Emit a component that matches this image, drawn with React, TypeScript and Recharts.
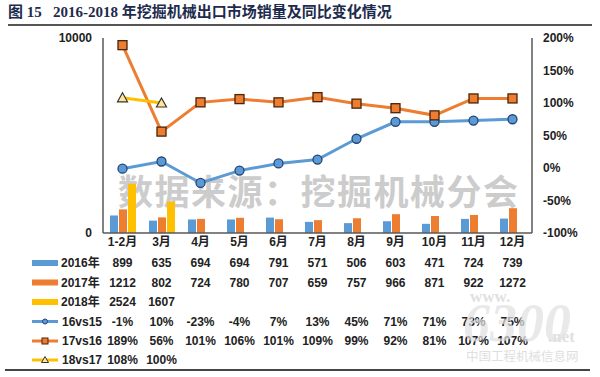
import React from "react";
import {
  ComposedChart,
  Bar,
  Line,
  XAxis,
  YAxis,
} from "recharts";

const categories = ["1-2月", "3月", "4月", "5月", "6月", "7月", "8月", "9月", "10月", "11月", "12月"];
const sales2016 = [899, 635, 694, 694, 791, 571, 506, 603, 471, 724, 739];
const sales2017 = [1212, 802, 724, 780, 707, 659, 757, 966, 871, 922, 1272];
const sales2018 = [2524, 1607];
const yoy16vs15 = [-1, 10, -23, -4, 7, 13, 45, 71, 71, 73, 75];
const yoy17vs16 = [189, 56, 101, 106, 101, 109, 99, 92, 81, 107, 107];
const yoy18vs17 = [108, 100];
const leftTicks = [0, 10000];
const rightTicks = [-100, -50, 0, 50, 100, 150, 200];

const BLUE = "#5B9BD5";
const ORANGE = "#ED7D31";
const YELLOW = "#FFC000";
const FRAME = "#595959";
const FONT = "'Liberation Sans', Arial, 'Noto Sans CJK SC', sans-serif";

const data = categories.map((cat, i) => ({
  cat,
  s2016: sales2016[i] ?? null,
  s2017: sales2017[i] ?? null,
  s2018: sales2018[i] ?? null,
  y16: yoy16vs15[i] ?? null,
  y17: yoy17vs16[i] ?? null,
  y18: yoy18vs17[i] ?? null,
}));

const tableRows = [
  { label: "2016年", kind: "bar", color: BLUE, values: sales2016.map(String) },
  { label: "2017年", kind: "bar", color: ORANGE, values: sales2017.map(String) },
  { label: "2018年", kind: "bar", color: YELLOW, values: sales2018.map(String) },
  { label: "16vs15", kind: "circle", color: BLUE, values: yoy16vs15.map((v) => `${v}%`) },
  { label: "17vs16", kind: "square", color: ORANGE, values: yoy17vs16.map((v) => `${v}%`) },
  { label: "18vs17", kind: "triangle", color: YELLOW, values: yoy18vs17.map((v) => `${v}%`) },
];

// row centers measured from the plot bottom
const CAT_DY = 9;
const ROW_DY = [30, 49.5, 69, 88.5, 108, 127];

const LegendKey = ({ row, y }: { row: any; y: number }) => {
  const x1 = 32;
  const x2 = 58;
  const cx = (x1 + x2) / 2;
  let marker = null;
  if (row.kind === "circle") {
    marker = <circle cx={cx} cy={y} r={2.5} fill={row.color} stroke="#264478" strokeWidth={1} />;
  } else if (row.kind === "square") {
    marker = <rect x={cx - 3} y={y - 3} width={6} height={6} fill={row.color} stroke="#4a2308" strokeWidth={1} />;
  } else if (row.kind === "triangle") {
    marker = (
      <polygon
        points={`${cx},${y - 3.5} ${cx + 3.5},${y + 2.5} ${cx - 3.5},${y + 2.5}`}
        fill="#FFE699"
        stroke="#333"
        strokeWidth={1}
      />
    );
  }
  return (
    <g>
      {row.kind === "bar" ? (
        <rect x={x1} y={y - 3} width={x2 - x1} height={6} fill={row.color} />
      ) : (
        <line x1={x1} x2={x2} y1={y} y2={y} stroke={row.color} strokeWidth={3} />
      )}
      {marker}
      <text
        x={row.kind === "bar" ? 61 : 62}
        y={y}
        dominantBaseline="central"
        fontSize={12}
        fontWeight="bold"
        fill="#222"
        fontFamily={FONT}
      >
        {row.label}
      </text>
    </g>
  );
};

const TableTick = (props: any) => {
  const { x, y, payload } = props;
  const i = payload.index;
  return (
    <g>
      <text
        x={x}
        y={y + CAT_DY}
        textAnchor="middle"
        dominantBaseline="central"
        fontSize={12}
        fontWeight="bold"
        fill="#222"
        fontFamily={FONT}
      >
        {categories[i]}
      </text>
      {tableRows.map((row, k) =>
        row.values[i] != null ? (
          <text
            key={row.label}
            x={x}
            y={y + ROW_DY[k]}
            textAnchor="middle"
            dominantBaseline="central"
            fontSize={12}
            fontWeight="bold"
            fill="#222"
            fontFamily={FONT}
          >
            {row.values[i]}
          </text>
        ) : null
      )}
      {i === 0 && tableRows.map((row, k) => <LegendKey key={row.label} row={row} y={y + ROW_DY[k]} />)}
    </g>
  );
};

const SquareDot = (props: any) => {
  const { cx, cy, value } = props;
  if (value == null || cx == null || cy == null) return <g />;
  return <rect x={cx - 4.5} y={cy - 4.5} width={9} height={9} fill={ORANGE} stroke="#4a2308" strokeWidth={1.3} />;
};

const TriangleDot = (props: any) => {
  const { cx, cy, value } = props;
  if (value == null || cx == null || cy == null) return <g />;
  return (
    <polygon
      points={`${cx},${cy - 5} ${cx + 5},${cy + 4} ${cx - 5},${cy + 4}`}
      fill="#FFE699"
      stroke="#333"
      strokeWidth={1.2}
    />
  );
};

export default function App() {
  return (
    <div style={{ position: "absolute", left: 0, top: 0, width: 600, height: 377, background: "#fff", overflow: "hidden" }}>
      <div
        style={{
          position: "absolute",
          left: 8,
          top: 2,
          fontFamily: "'Liberation Serif', 'Noto Sans CJK SC', serif",
          fontWeight: "bold",
          fontSize: 15,
          color: "#1d2b4c",
          whiteSpace: "pre",
          lineHeight: "20px",
        }}
      >
        {"图 15   2016-2018 年挖掘机械出口市场销量及同比变化情况"}
      </div>
      <div style={{ position: "absolute", left: 8, top: 24, width: 584, height: 1.5, background: "#555" }} />
      <div style={{ position: "absolute", left: 5, top: 369, width: 585, height: 1.5, background: "#444" }} />

      <div
        style={{
          position: "absolute",
          left: 118,
          top: 170,
          fontFamily: "'Noto Sans CJK SC', sans-serif",
          fontWeight: "bold",
          fontSize: 35,
          color: "#cccccc",
          whiteSpace: "pre",
          lineHeight: "40px",
          letterSpacing: 1.5,
        }}
      >
        数据来源：挖掘机械分会
      </div>

      <div style={{ position: "absolute", left: 0, top: 0 }}>
        <ComposedChart
          width={600}
          height={377}
          data={data}
          margin={{ top: 38, right: 8, bottom: 4, left: 40 }}
          barSize={8}
          barGap={1}
        >
          <XAxis
            dataKey="cat"
            xAxisId="bottom"
            height={140}
            tick={<TableTick />}
            tickLine={false}
            tickSize={0}
            tickMargin={0}
            interval={0}
            axisLine={{ stroke: FRAME, strokeWidth: 1.5 }}
          />
          <XAxis
            dataKey="cat"
            xAxisId="top"
            orientation="top"
            height={0}
            tick={false}
            tickLine={false}
            axisLine={{ stroke: FRAME, strokeWidth: 1.5 }}
          />
          <YAxis
            yAxisId="left"
            width={63}
            domain={[0, 10000]}
            ticks={leftTicks}
            tickLine={false}
            tickSize={0}
            tickMargin={11}
            axisLine={{ stroke: FRAME, strokeWidth: 1.5 }}
            tick={{ fontSize: 12, fontWeight: "bold", fill: "#222", fontFamily: FONT }}
          />
          <YAxis
            yAxisId="right"
            orientation="right"
            width={60}
            domain={[-100, 200]}
            ticks={rightTicks}
            tickFormatter={(v) => `${v}%`}
            tickLine={false}
            tickSize={0}
            tickMargin={11}
            axisLine={{ stroke: FRAME, strokeWidth: 1.5 }}
            tick={{ fontSize: 12, fontWeight: "bold", fill: "#222", fontFamily: FONT, textAnchor: "start" }}
          />
          <Bar dataKey="s2016" xAxisId="bottom" yAxisId="left" fill={BLUE} isAnimationActive={false} />
          <Bar dataKey="s2017" xAxisId="bottom" yAxisId="left" fill={ORANGE} isAnimationActive={false} />
          <Bar dataKey="s2018" xAxisId="bottom" yAxisId="left" fill={YELLOW} isAnimationActive={false} />
          <Line
            dataKey="y16"
            xAxisId="bottom"
            yAxisId="right"
            stroke={BLUE}
            strokeWidth={3}
            dot={{ r: 4.5, fill: BLUE, stroke: "#264478", strokeWidth: 1.3 }}
            isAnimationActive={false}
          />
          <Line
            dataKey="y17"
            xAxisId="bottom"
            yAxisId="right"
            stroke={ORANGE}
            strokeWidth={3}
            dot={<SquareDot />}
            isAnimationActive={false}
          />
          <Line
            dataKey="y18"
            xAxisId="bottom"
            yAxisId="right"
            stroke={YELLOW}
            strokeWidth={3}
            dot={<TriangleDot />}
            isAnimationActive={false}
          />
        </ComposedChart>
      </div>

      {/* site watermark, bottom right */}
      <div style={{ position: "absolute", left: 0, top: 0, pointerEvents: "none", opacity: 0.7 }}>
        <div style={{ fontFamily: "'Liberation Serif', serif", fontSize: 17, color: "#d4d4d4", fontWeight: "bold", position: "absolute", left: 470, top: 287 }}>
          www.
        </div>
        <div style={{ fontFamily: "'Liberation Serif', serif", fontStyle: "italic", fontSize: 54, color: "#e0e0e0", fontWeight: "bold", position: "absolute", left: 463, top: 296, lineHeight: "54px" }}>
          6300
        </div>
        <div style={{ fontFamily: "'Liberation Serif', serif", fontSize: 17, color: "#d4d4d4", fontWeight: "bold", position: "absolute", left: 548, top: 327 }}>
          .net
        </div>
        <div style={{ fontFamily: "'Noto Sans CJK SC', sans-serif", fontSize: 12.5, color: "#d2d2d2", position: "absolute", left: 466, top: 348, whiteSpace: "pre", lineHeight: "16px" }}>
          中国工程机械信息网
        </div>
      </div>
    </div>
  );
}
